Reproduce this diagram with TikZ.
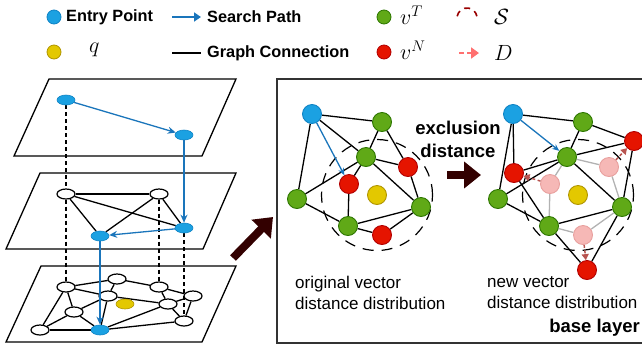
\RequirePackage{fix-cm}
\documentclass[tikz,border=0pt]{standalone}
\usepackage{fontspec}
\setmainfont{Liberation Sans}
\usetikzlibrary{arrows.meta,shapes.geometric}
\definecolor{eblue}{HTML}{1BA1E2}
\definecolor{eblueD}{HTML}{1083C4}
\definecolor{pathblue}{HTML}{1A75BB}
\definecolor{vgreen}{HTML}{60A917}
\definecolor{vgreenD}{HTML}{2D7600}
\definecolor{vred}{HTML}{E51400}
\definecolor{vredD}{HTML}{B20000}
\definecolor{qyellow}{HTML}{E3C800}
\definecolor{qyellowD}{HTML}{B09500}
\definecolor{pinkF}{HTML}{F6B8B6}
\definecolor{pinkD}{HTML}{E8A09E}
\definecolor{darrow}{HTML}{B85450}
\definecolor{legpink}{HTML}{FF7070}
\definecolor{Sred}{HTML}{990000}
\definecolor{brownA}{HTML}{330000}
\definecolor{frame}{HTML}{333333}
\pgfdeclarelayer{bg}
\pgfdeclarelayer{edges}
\pgfsetlayers{bg,edges,main}
\newcommand\legfont{\fontsize{16.3}{19}\selectfont\bfseries}
\newcommand\panfont{\fontsize{18.5}{23}\selectfont\bfseries}
\newcommand\capfont{\fontsize{17}{21}\selectfont}
\newcommand\mathlegfont{\fontsize{22}{24}\selectfont}
\tikzset{
  gnode/.style={circle, minimum size=19pt, inner sep=0pt, line width=0.9pt},
  tn/.style={gnode, fill=vgreen, draw=vgreenD},
  nn/.style={gnode, fill=vred, draw=vredD},
  pn/.style={gnode, fill=pinkF, draw=pinkD},
  en/.style={gnode, fill=eblue, draw=eblueD},
  yn/.style={gnode, fill=qyellow, draw=qyellowD},
  legnode/.style={circle, minimum size=14pt, inner sep=0pt, line width=0.8pt},
  wl/.style={ellipse, minimum width=18pt, minimum height=10pt, inner sep=0pt, draw=black, fill=white, line width=1.2pt},
  bl/.style={ellipse, minimum width=18pt, minimum height=10pt, inner sep=0pt, draw=eblueD, fill=eblue, line width=0.6pt},
  ql/.style={ellipse, minimum width=18pt, minimum height=10pt, inner sep=0pt, draw=qyellowD, fill=qyellow, line width=0.6pt},
  plane/.style={draw=black, line width=1.3pt, line join=miter},
  edge/.style={draw=black, line width=1.3pt},
  gedge/.style={draw=black!30, line width=1.3pt},
  vdash/.style={draw=black, line width=1.2pt, dash pattern=on 4pt off 3pt},
  spath/.style={draw=pathblue, line width=1.3pt, -{Stealth[length=8pt,width=7pt]}},
  parrow/.style={draw=darrow, line width=1.5pt, dash pattern=on 3pt off 2.5pt, -{Triangle[length=6pt,width=7pt]}},
  scircle/.style={circle, minimum size=111pt, inner sep=0pt, draw=black, line width=1.2pt, dash pattern=on 11pt off 8pt},
  bigarrow/.style={draw=brownA, line width=8pt, -{Triangle[length=17pt,width=26pt]}},
  txt/.style={inner sep=0pt, text=black},
}
\begin{document}
\begin{tikzpicture}[x=1pt,y=-1pt]
\useasboundingbox (0,0) rectangle (642,349);

% ---------------- legend ----------------
\node[legnode, fill=eblue, draw=eblueD] (lgE) at (54,17) {};
\node[txt, anchor=west, font=\legfont] (lgEt) at (66,17) {Entry Point};
\coordinate (lgSa) at (172,17);
\coordinate (lgSb) at (201,17);
\draw[draw=pathblue, line width=2pt, -{Triangle[length=7pt,width=9pt]}] (lgSa) -- (lgSb);
\node[txt, anchor=west, font=\legfont] (lgSt) at (207,17) {Search Path};
\node[legnode, fill=vgreen, draw=vgreenD] (lgT) at (384,17) {};
\node[txt, anchor=west, font=\mathlegfont] (lgTt) at (400,15) {$v^{T}$};
\coordinate (lgSc) at (467,18);
\draw[draw=Sred, line width=1.6pt, dash pattern=on 6pt off 5pt] ([shift={(190:10)}]lgSc) arc (190:350:10);
\node[txt, anchor=west, font=\mathlegfont] (lgSs) at (494,17) {$\mathcal{S}$};

\node[legnode, fill=qyellow, draw=qyellowD] (lgQ) at (54,52) {};
\node[txt, anchor=west, font=\mathlegfont] (lgQt) at (89,50) {$q$};
\coordinate (lgGa) at (172,53);
\coordinate (lgGb) at (201,53);
\draw[draw=black, line width=2pt] (lgGa) -- (lgGb);
\node[txt, anchor=west, font=\legfont] (lgGt) at (207,53) {Graph Connection};
\node[legnode, fill=vred, draw=vredD] (lgN) at (384,52) {};
\node[txt, anchor=west, font=\mathlegfont] (lgNt) at (400,50) {$v^{N}$};
\coordinate (lgDa) at (459,53);
\coordinate (lgDb) at (479,53);
\draw[draw=legpink, line width=2.4pt, dash pattern=on 5pt off 3pt, -{Triangle[length=8pt,width=11pt]}] (lgDa) -- (lgDb);
\node[txt, anchor=west, font=\mathlegfont] (lgDt) at (494,53) {$D$};

% ---------------- left: layers ----------------
\begin{pgfonlayer}{bg}
\draw[plane] (49,79) -- (236,79) -- (202,156) -- (14,156) -- cycle;
\draw[plane] (40,173) -- (236,173) -- (203,249) -- (6,249) -- cycle;
\draw[plane] (41,266) -- (236,266) -- (202,342) -- (6,342) -- cycle;
\end{pgfonlayer}

% top layer
\node[bl] (t1) at (66,100) {};
\node[bl] (t2) at (184,135) {};
% middle layer
\node[wl] (m1) at (66,194) {};
\node[wl] (m2) at (159,194) {};
\node[bl] (m3) at (100,236) {};
\node[bl] (m4) at (184,228) {};
% bottom layer
\node[wl] (bA) at (66,287) {};
\node[wl] (bB) at (117,279) {};
\node[wl] (bC) at (159,287) {};
\node[wl] (bD) at (108,296) {};
\node[wl] (bE) at (193,296) {};
\node[wl] (bF) at (168,304) {};
\node[wl] (bG) at (74,312) {};
\node[wl] (bH) at (184,321) {};
\node[wl] (bI) at (40,330) {};
\node[bl] (bJ) at (100,330) {};
\node[ql] (bQ) at (125,304) {};

\begin{pgfonlayer}{edges}
\draw[vdash] (t1) -- (m1);
\draw[vdash] (m1) -- (bA);
\draw[vdash] (m2) -- (bC);
\draw[vdash] (m4) -- (bH);
% middle edges
\draw[edge] (m1) -- (m2);
\draw[edge] (m1) -- (m3);
\draw[edge] (m1) -- (m4);
\draw[edge] (m2) -- (m3);
\draw[edge] (m2) -- (m4);
% bottom edges
\draw[edge] (bA) -- (bB);
\draw[edge] (bA) -- (bD);
\draw[edge] (bA) -- (bG);
\draw[edge] (bA) -- (bI);
\draw[edge] (bB) -- (bC);
\draw[edge] (bB) -- (bD);
\draw[edge] (bC) -- (bE);
\draw[edge] (bC) -- (bF);
\draw[edge] (bD) -- (bF);
\draw[edge] (bD) -- (bG);
\draw[edge] (bD) -- (bJ);
\draw[edge] (bE) -- (bF);
\draw[edge] (bE) -- (bH);
\draw[edge] (bF) -- (bH);
\draw[edge] (bG) -- (bI);
\draw[edge] (bG) -- (bJ);
\draw[edge] (bI) -- (bJ);
\draw[edge] (bJ) -- (bF);
\draw[edge] (bJ) -- (bH);
\end{pgfonlayer}
% search path
\draw[spath] (t1) -- (t2);
\draw[spath] (t2) -- (m4);
\draw[spath] (m4) -- (m3);
\draw[spath] (m3) -- (bJ);

% big diagonal arrow
\coordinate (daA) at (233,258);
\coordinate (daB) at (273,217);
\draw[bigarrow] (daA) -- (daB);

% ---------------- right panel ----------------
\draw[draw=frame, line width=1.4pt] (277,79) rectangle (646,343);

% left graph
\node[en] (lB) at (312,114) {};
\node[tn] (lG1) at (382,122) {};
\node[tn] (lG2) at (366,157) {};
\node[nn] (lR1) at (408,167) {};
\node[nn] (lR2) at (349,184) {};
\node[yn] (lY) at (377,195) {};
\node[tn] (lG3) at (297,199) {};
\node[tn] (lG4) at (421,207) {};
\node[tn] (lG5) at (348,226) {};
\node[nn] (lR3) at (382,235) {};
\begin{pgfonlayer}{bg}
\node[scircle] (lS) at (377,195) {};
\end{pgfonlayer}
\begin{pgfonlayer}{edges}
\draw[edge] (lB) -- (lG1);
\draw[edge] (lB) -- (lG2);
\draw[edge] (lB) -- (lG3);
\draw[edge] (lG1) -- (lG2);
\draw[edge] (lG1) -- (lR1);
\draw[edge] (lG2) -- (lR1);
\draw[edge] (lG2) -- (lR2);
\draw[edge] (lG2) -- (lG3);
\draw[edge] (lG2) -- (lG4);
\draw[edge] (lR1) -- (lG4);
\draw[edge] (lG3) -- (lG5);
\draw[edge] (lR2) -- (lG5);
\draw[edge] (lG5) -- (lG4);
\draw[edge] (lG5) -- (lR3);
\draw[edge] (lR3) -- (lG4);
\end{pgfonlayer}
\draw[draw=pathblue, line width=1.3pt, -{Stealth[length=7pt,width=6pt]}] (lB) -- (lR2);

% middle text and arrow
\node[txt, align=center, font=\panfont] (excl) at (458,139.5) {exclusion\\distance};
\coordinate (haA) at (447,175);
\coordinate (haB) at (481,175);
\draw[bigarrow] (haA) -- (haB);

% right graph
\node[en] (rB) at (513,114) {};
\node[tn] (rG1) at (583,122) {};
\node[tn] (rG2) at (567,157) {};
\node[pn] (rP1) at (609,167) {};
\node[pn] (rP2) at (550,184) {};
\node[yn] (rY) at (578,195) {};
\node[tn] (rG3) at (498,199) {};
\node[tn] (rG4) at (622,207) {};
\node[tn] (rG5) at (549,226) {};
\node[pn] (rP3) at (583,235) {};
\node[nn] (rR1) at (634,141) {};
\node[nn] (rR2) at (514,173) {};
\node[nn] (rR3) at (587,270) {};
\begin{pgfonlayer}{bg}
\node[scircle] (rS) at (578,195) {};
\end{pgfonlayer}
\begin{pgfonlayer}{edges}
\draw[gedge] (rG2) -- (rP1);
\draw[gedge] (rG2) -- (rP2);
\draw[gedge] (rP2) -- (rG5);
\draw[gedge] (rP1) -- (rG4);
\draw[gedge] (rG5) -- (rP3);
\draw[gedge] (rP3) -- (rG4);
\draw[edge] (rB) -- (rG1);
\draw[edge] (rB) -- (rG3);
\draw[edge] (rB) -- (rR2);
\draw[edge] (rG1) -- (rG2);
\draw[edge] (rG1) -- (rR1);
\draw[edge] (rG2) -- (rR1);
\draw[edge] (rG2) -- (rR2);
\draw[edge] (rG2) -- (rG3);
\draw[edge] (rG2) -- (rG4);
\draw[edge] (rR1) -- (rG4);
\draw[edge] (rG3) -- (rG5);
\draw[edge] (rR2) -- (rG5);
\draw[edge] (rG5) -- (rG4);
\draw[edge] (rG5) -- (rR3);
\draw[edge] (rR3) -- (rG4);
\end{pgfonlayer}
\draw[draw=pathblue, line width=1.3pt, -{Stealth[length=7pt,width=6pt]}] (rB) -- (rG2);
\draw[parrow] (rP1) -- (rR1);
\draw[parrow] (rP2) -- (rR2);
\draw[parrow] (rP3) -- (rR3);

% captions
\node[txt, anchor=west, align=left, font=\capfont] (capL) at (295,292.5) {original vector\\distance distribution};
\node[txt, anchor=west, align=left, font=\capfont] (capR) at (487,292.5) {new vector\\distance distribution};
\node[txt, anchor=east, font=\panfont] (base) at (640,328) {base layer};
\end{tikzpicture}
\end{document}
